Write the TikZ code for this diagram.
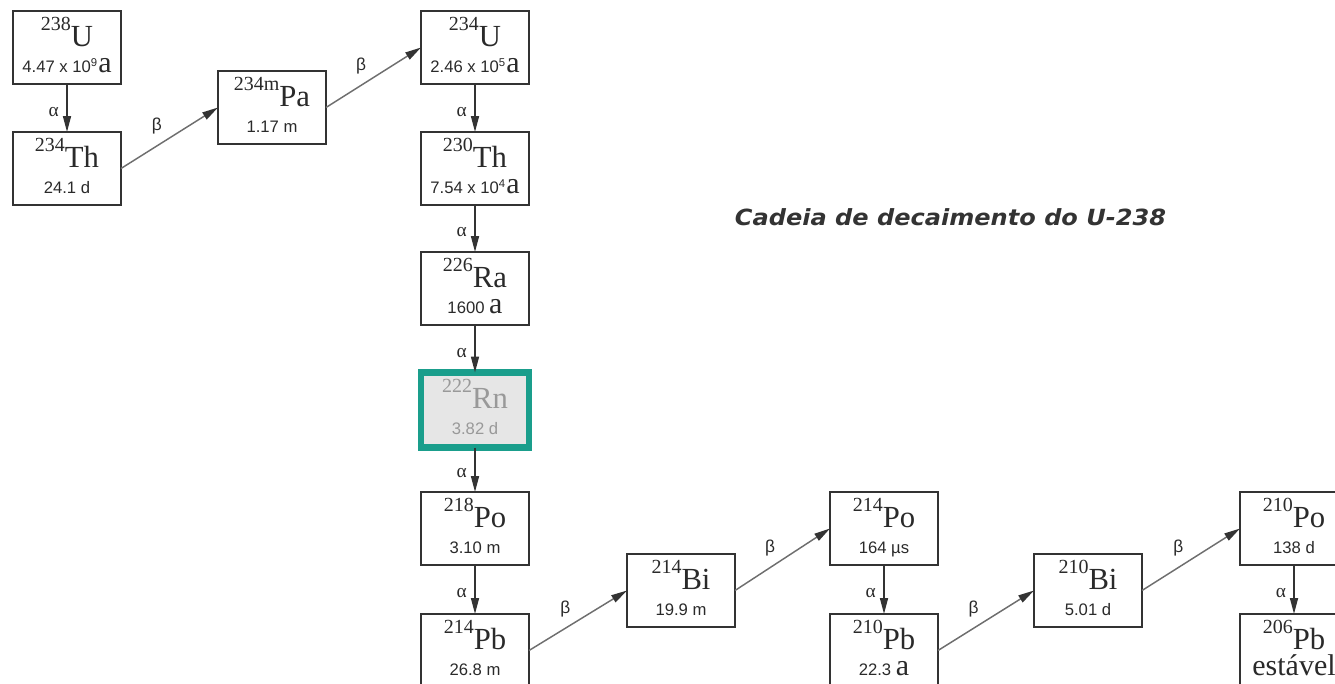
\documentclass[tikz,border=0pt]{standalone}
\usepackage{fontspec}
\setmainfont{Liberation Serif}
\newfontfamily\arialfont{Liberation Sans}
\newfontfamily\titlefont{DejaVu Sans}
\usetikzlibrary{arrows.meta}
\definecolor{boxline}{HTML}{333333}
\definecolor{betaline}{HTML}{6E6E6E}
\definecolor{rnteal}{HTML}{1A9E8C}
\definecolor{rnfill}{HTML}{E6E6E6}
\definecolor{rntext}{HTML}{999999}
\definecolor{inktext}{HTML}{2A2A2A}
\definecolor{titlegray}{HTML}{333333}
\newcommand\iso[2]{{\fontsize{15}{15}\selectfont\raisebox{11.5pt}{#1}}{\fontsize{23}{23}\selectfont #2}}
\newcommand\hl[1]{{\arialfont\fontsize{12.5}{12.5}\selectfont #1}}
\newcommand\bigA{{\fontsize{22.5}{22.5}\selectfont a}}
\newcommand\yr[2]{\hl{#1 x 10}\raisebox{4.5pt}{\arialfont\fontsize{8.5}{8.5}\selectfont #2}\kern0.8pt\bigA}
\tikzset{
  nuc/.style={draw=boxline, line width=1.3pt, minimum width=81pt, minimum height=54.75pt, inner sep=0pt, outer sep=0pt},
  txt/.style={anchor=base, inner sep=0pt, text=inktext},
  txtb/.style={anchor=base, inner sep=0pt, text=inktext, text height=9pt, text depth=2pt},
  alpha/.style={draw=boxline, line width=1.2pt, -{Triangle[length=12pt,width=6pt]}},
  beta/.style={draw=betaline, line width=1.1pt, -{Triangle[length=12pt,width=6pt,color=boxline]}},
  alab/.style={pos=0.58, left=5.5pt, inner sep=0pt, text=inktext, font=\fontsize{14.5}{14.5}\selectfont},
  blab/.style={pos=0.37, above=8pt, inner sep=0pt, text=inktext, font=\arialfont\fontsize{13}{13}\selectfont},
}
\newcommand\nuclide[5]{%
  \node[nuc] (#1) at (#2+54,#3+36.5) {};
  \node[txt] (#1-a) at (#2+54,#3+35) {#4};
  \node[txtb] (#1-b) at (#2+54,#3+61) {#5};
}
\begin{document}
\begin{tikzpicture}[x=0.75pt,y=-0.75pt]
\useasboundingbox (0,0) rectangle (1335,683);
\clip (0,0) rectangle (1335,683);
\nuclide{U238}{13}{11}{\iso{238}{U}}{\yr{4.47}{9}}
\nuclide{Th234}{13}{132}{\iso{234}{Th}}{\hl{24.1 d}}
\nuclide{Pa234}{218}{71}{\iso{234m}{Pa}}{\hl{1.17 m}}
\nuclide{U234}{421}{11}{\iso{234}{U}}{\yr{2.46}{5}}
\nuclide{Th230}{421}{132}{\iso{230}{Th}}{\yr{7.54}{4}}
\nuclide{Ra226}{421}{252}{\iso{226}{Ra}}{\hl{1600 }\bigA}
% Rn-222 highlighted
\node[nuc, draw=rnteal, line width=5pt, fill=rnfill, minimum height=56.25pt] (Rn222) at (475,410) {};
\node[txt, text=rntext] (Rn222-a) at (475,373+35) {\iso{222}{Rn}};
\node[txtb, text=rntext] (Rn222-b) at (475,373+61) {\hl{3.82 d}};
\nuclide{Po218}{421}{492}{\iso{218}{Po}}{\hl{3.10 m}}
\nuclide{Pb214}{421}{614}{\iso{214}{Pb}}{\hl{26.8 m}}
\nuclide{Bi214}{627}{554}{\iso{214}{Bi}}{\hl{19.9 m}}
\nuclide{Po214}{830}{492}{\iso{214}{Po}}{\hl{164 µs}}
\nuclide{Pb210}{830}{614}{\iso{210}{Pb}}{\hl{22.3 }\bigA}
\nuclide{Bi210}{1034}{554}{\iso{210}{Bi}}{\hl{5.01 d}}
\nuclide{Po210}{1240}{492}{\iso{210}{Po}}{\hl{138 d}}
\nuclide{Pb206}{1240}{614}{\iso{206}{Pb}}{{\fontsize{22.5}{22.5}\selectfont estável}}
% alpha decays
\draw[alpha] (U238) -- node[alab]{α} (Th234);
\draw[alpha] (U234) -- node[alab]{α} (Th230);
\draw[alpha] (Th230) -- node[alab]{α} (Ra226);
\draw[alpha] (Ra226) -- node[alab]{α} (Rn222);
\draw[alpha] (Rn222) -- node[alab]{α} (Po218);
\draw[alpha] (Po218) -- node[alab]{α} (Pb214);
\draw[alpha] (Po214) -- node[alab]{α} (Pb210);
\draw[alpha] (Po210) -- node[alab]{α} (Pb206);
% beta decays
\draw[beta] (Th234.east) -- node[blab]{β} (Pa234.west);
\draw[beta] (Pa234.east) -- node[blab]{β} (U234.west);
\draw[beta] (Pb214.east) -- node[blab]{β} (Bi214.west);
\draw[beta] (Bi214.east) -- node[blab]{β} (Po214.west);
\draw[beta] (Pb210.east) -- node[blab]{β} (Bi210.west);
\draw[beta] (Bi210.east) -- node[blab]{β} (Po210.west);
% title
\node[inner sep=0pt, text=titlegray] (title) at (950.5,217) {\scalebox{1.08}[1]{\titlefont\bfseries\itshape\fontsize{16.7}{20}\selectfont Cadeia de decaimento do U-238}};
\end{tikzpicture}
\end{document}
